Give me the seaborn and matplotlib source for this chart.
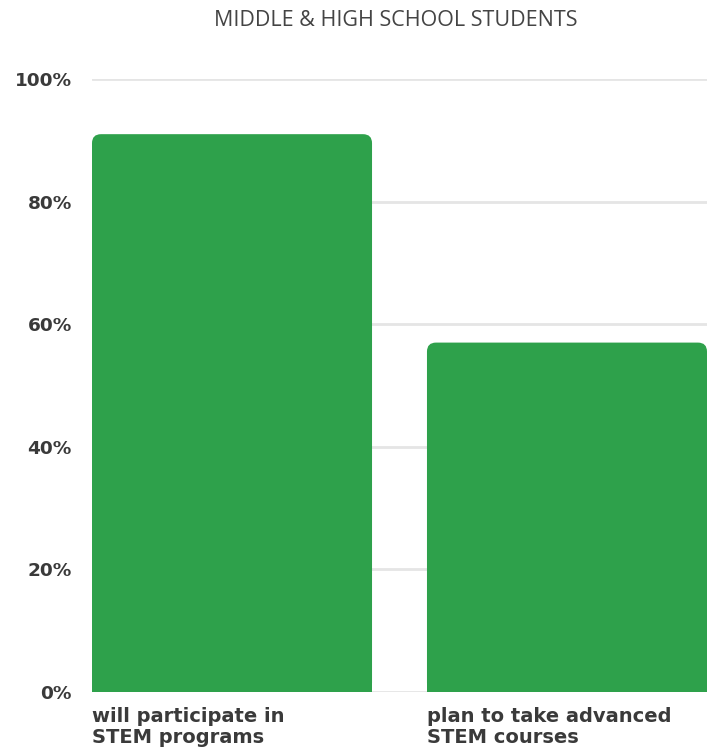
import matplotlib
matplotlib.use("Agg")
import matplotlib.pyplot as plt
import seaborn as sns
import pandas as pd
from matplotlib.patches import FancyBboxPatch, Rectangle
import matplotlib.transforms as mtrans

categories = ["will participate in\nSTEM programs", "plan to take advanced\nSTEM courses"]
values = [91, 57]
yticks = [0, 20, 40, 60, 80, 100]
ytick_labels = ["0%", "20%", "40%", "60%", "80%", "100%"]
title = "MIDDLE & HIGH SCHOOL STUDENTS"

sns.set_theme(style="white")
plt.rcParams["font.family"] = ["DejaVu Sans"]

df = pd.DataFrame({"cat": categories, "val": values})
fig = plt.figure(figsize=(7.16, 7.5), dpi=100)
ax = fig.add_axes([92/716, 1-692/750, (707-92)/716, (692-79)/750])

green = "#2ea14b"
sns.barplot(data=df, x="cat", y="val", color=green, width=0.836, ax=ax, saturation=1)

ax.set_ylim(0, 100)
ax.set_xlim(-0.418, 1.418)
for y in yticks:
    ax.axhline(y, color="#e5e5e5", lw=2, zorder=0)

# rounded tops
px_x = 1.836 / 615
px_y = 100 / 613
r = 9 * px_x
aspect = px_y / px_x
for p in list(ax.patches):
    x0, w, h = p.get_x(), p.get_width(), p.get_height()
    p.set_visible(False)
    fb = FancyBboxPatch((x0, 0), w, h, boxstyle=f"round,pad=0,rounding_size={r}",
                        mutation_aspect=aspect, facecolor=green, edgecolor="none", zorder=3)
    ax.add_patch(fb)
    ax.add_patch(Rectangle((x0, 0), w, h/2, facecolor=green, edgecolor="none", zorder=3))

for s in ax.spines.values():
    s.set_visible(False)
ax.set_xlabel("")
ax.set_ylabel("")
ax.set_yticks(yticks)
ax.set_yticklabels(ytick_labels, fontsize=13.3, fontweight="bold", color="#3a3a3a")
ax.tick_params(axis="y", length=0, pad=14.5)
ax.tick_params(axis="x", length=0, pad=11)
ax.set_xticks([0, 1])
ax.set_xticklabels(categories, fontsize=14, fontweight="bold", color="#3a3a3a",
                   ha="left", linespacing=1.12)
for lbl in ax.get_xticklabels():
    lbl.set_transform(lbl.get_transform() + mtrans.ScaledTranslation(-140/100, 0, fig.dpi_scale_trans))

fig.text(396/716, 1-21/750, title, ha="center", va="center", fontsize=15.5,
         color="#444444", family=["Open Sans", "DejaVu Sans"])

fig.savefig("out.png", dpi=100)
